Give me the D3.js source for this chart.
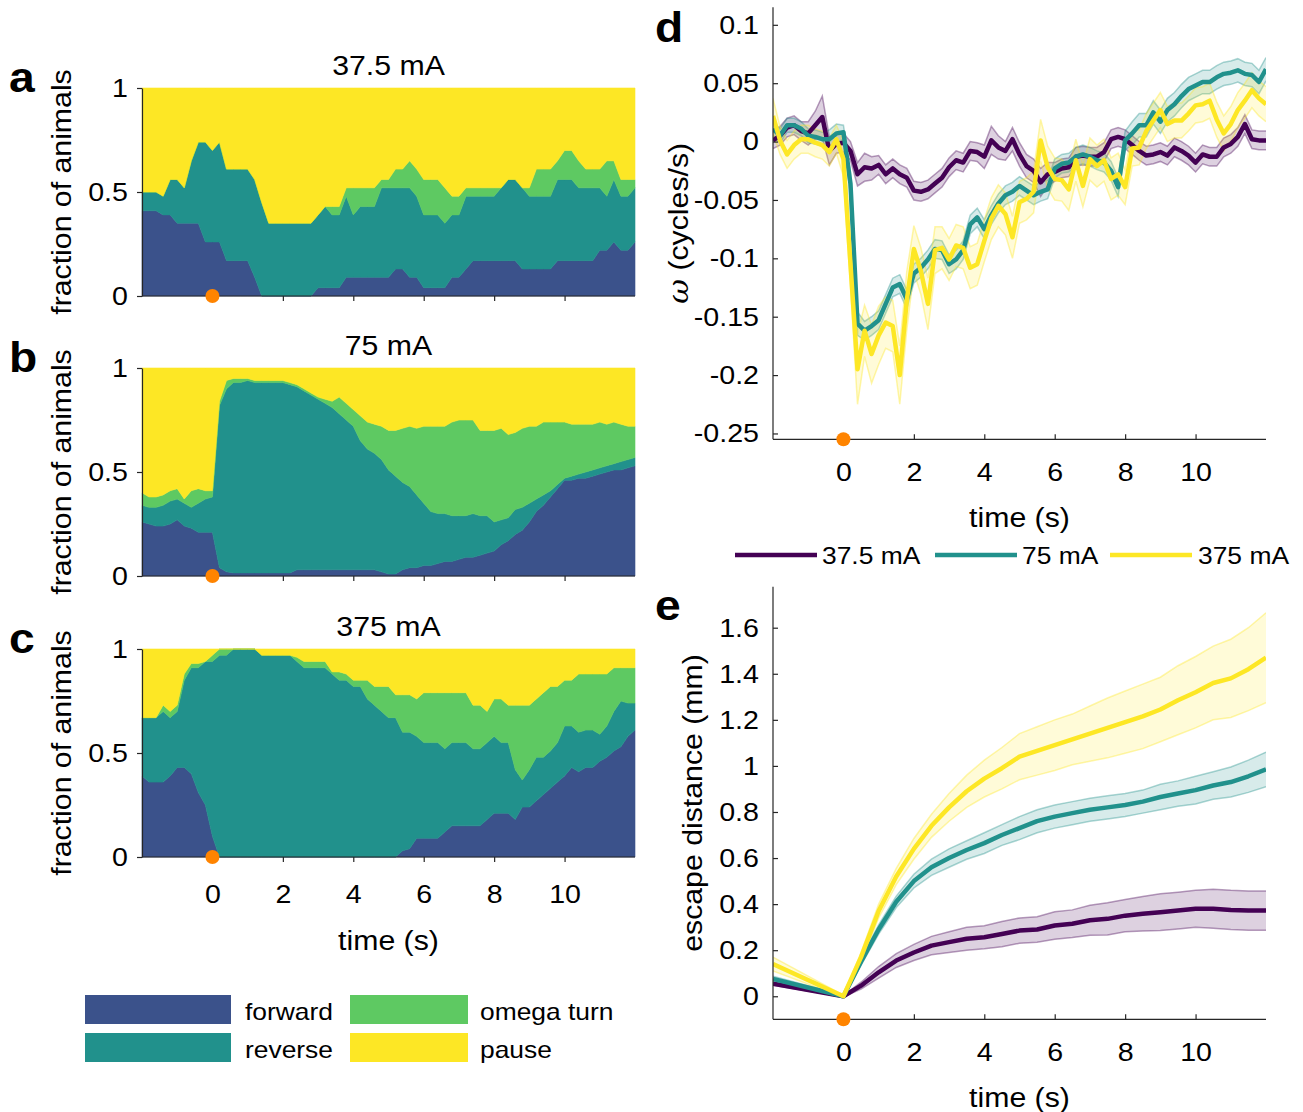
<!DOCTYPE html>
<html><head><meta charset="utf-8">
<script src="https://cdn.jsdelivr.net/npm/d3@7"></script>
<style>
body{margin:0;background:#fff;}
svg text{font-family:"Liberation Sans",Arial,Helvetica,sans-serif;fill:#000;}
</style></head><body>
<svg id="chart" width="1303" height="1112" xmlns="http://www.w3.org/2000/svg"></svg>
<script>
// ---------------- DATA ----------------
// behaviour time grid (s), step 0.2 from -2 to 12
const timeGrid = d3.range(71).map(i => +(-2 + 0.2 * i).toFixed(1));
const behaviors = ["forward", "reverse", "omega turn", "pause"];
const behaviorColors = ["#3b528b", "#21918c", "#5ec962", "#fde725"];
const currents = ["37.5 mA", "75 mA", "375 mA"];
const currentColors = ["#440154", "#21918c", "#fde725"];

// panel a (37.5 mA) fractions
const aForward = [.41,.41,.41,.39,.39,.35,.35,.35,.35,.26,
 .26,.26,.17,.17,.17,.17,.09,0,0,0,
 0,0,0,0,0,.04,.04,.04,.04,.09,
 .09,.09,.09,.09,.09,.09,.13,.13,.09,.09,
 .04,.04,.04,.04,.09,.09,.13,.17,.17,.17,
 .17,.17,.17,.17,.13,.13,.13,.13,.13,.17,
 .17,.17,.17,.17,.17,.22,.22,.26,.22,.22,
 .26];
const aReverse = [.09,.09,.09,.09,.17,.21,.17,.30,.39,.48,
 .44,.48,.44,.44,.44,.44,.47,.45,.35,.35,
 .35,.35,.35,.35,.35,.35,.39,.35,.35,.39,
 .30,.34,.34,.34,.43,.43,.39,.39,.43,.39,
 .35,.35,.35,.31,.30,.30,.35,.31,.31,.31,
 .31,.35,.39,.39,.39,.35,.35,.35,.35,.39,
 .39,.39,.35,.35,.35,.30,.26,.30,.26,.26,
 .26];
const aOmega = [0,0,0,0,0,0,0,0,0,0,
 0,0,0,0,0,0,0,0,0,0,
 0,0,0,0,0,0,0,.04,.04,.04,
 .13,.09,.09,.09,.04,.04,.09,.09,.13,.13,
 .17,.17,.17,.17,.09,.09,.04,.04,.04,.04,
 .04,0,0,0,0,.04,.13,.13,.13,.09,
 .14,.14,.13,.09,.09,.09,.17,.09,.08,.08,
 .04];
const aPause = [.50,.50,.50,.52,.44,.44,.48,.35,.26,.26,
 .30,.26,.39,.39,.39,.39,.44,.55,.65,.65,
 .65,.65,.65,.65,.65,.61,.57,.57,.57,.48,
 .48,.48,.48,.48,.44,.44,.39,.39,.35,.39,
 .44,.44,.44,.48,.52,.52,.48,.48,.48,.48,
 .48,.48,.44,.44,.48,.48,.39,.39,.39,.35,
 .30,.30,.35,.39,.39,.39,.35,.35,.44,.44,
 .44];

// panel b (75 mA)
const bForward = [.26,.25,.24,.24,.25,.27,.24,.23,.21,.21,
 .21,.04,.02,.015,.015,.015,.015,.015,.015,.015,
 .015,.015,.03,.03,.03,.03,.03,.03,.03,.03,
 .03,.03,.03,.03,.02,.01,.01,.03,.04,.04,
 .05,.05,.06,.07,.07,.08,.09,.09,.10,.11,
 .12,.15,.17,.20,.22,.26,.31,.34,.38,.42,
 .46,.46,.47,.47,.48,.49,.50,.51,.51,.52,
 .53];
const bReverse = [.08,.08,.09,.10,.11,.10,.11,.10,.14,.16,
 .17,.78,.88,.915,.915,.925,.915,.915,.915,.915,
 .915,.905,.88,.86,.84,.82,.80,.78,.75,.72,
 .69,.62,.58,.56,.54,.50,.47,.42,.39,.35,
 .30,.26,.24,.23,.22,.21,.20,.21,.19,.18,
 .14,.12,.11,.12,.11,.09,.06,.05,.03,.02,
 .01,.02,.02,.03,.03,.03,.03,.03,.04,.04,
 .04];
const bOmega = [.06,.05,.05,.05,.05,.05,.02,.08,.07,.04,
 .03,.02,.04,.02,.02,.01,.01,.01,.01,.01,
 .01,.01,.01,.01,.01,.01,.02,.03,.08,.08,
 .08,.12,.13,.14,.16,.19,.22,.26,.29,.32,
 .37,.41,.42,.42,.45,.46,.46,.45,.41,.41,
 .44,.44,.40,.37,.38,.37,.35,.35,.33,.30,
 .27,.25,.24,.23,.22,.22,.20,.20,.18,.16,
 .15];
const bPause = [.60,.62,.62,.61,.59,.58,.63,.59,.58,.59,
 .59,.16,.06,.05,.05,.05,.06,.06,.06,.06,
 .06,.07,.08,.10,.12,.14,.15,.16,.14,.17,
 .20,.23,.26,.27,.28,.30,.30,.29,.28,.29,
 .28,.28,.28,.28,.26,.25,.25,.25,.30,.30,
 .30,.29,.32,.31,.29,.28,.28,.26,.26,.26,
 .26,.27,.27,.27,.27,.26,.27,.26,.27,.28,
 .28];

// panel c (375 mA)
const cForward = [.39,.36,.36,.36,.39,.43,.43,.40,.31,.25,
 .10,0,0,0,0,0,0,0,0,0,
 0,0,0,0,0,0,0,0,0,0,
 0,0,0,0,0,0,0,.03,.04,.09,
 .09,.09,.09,.12,.15,.15,.15,.15,.15,.18,
 .21,.21,.21,.18,.24,.24,.27,.30,.33,.36,
 .39,.43,.41,.43,.43,.46,.48,.51,.53,.58,
 .61];
const cReverse = [.28,.31,.31,.34,.28,.27,.42,.51,.60,.69,
 .84,.97,.97,1,1,1,1,.97,.97,.97,
 .97,.97,.94,.91,.91,.91,.91,.88,.85,.85,
 .82,.82,.76,.73,.70,.67,.67,.57,.56,.49,
 .46,.46,.46,.40,.40,.40,.40,.37,.37,.37,
 .37,.34,.34,.24,.13,.18,.21,.18,.18,.19,
 .24,.20,.19,.18,.18,.13,.15,.19,.22,.16,
 .13];
const cOmega = [0,0,0,.03,.03,.03,.03,.02,.02,0,
 .03,.03,.03,0,0,0,0,0,0,0,
 0,0,.02,.03,.03,.03,.03,.01,.04,.03,
 .03,.03,.09,.09,.12,.15,.11,.18,.18,.18,
 .24,.24,.24,.27,.24,.24,.24,.21,.21,.15,
 .18,.21,.18,.31,.36,.31,.28,.31,.31,.27,
 .22,.22,.28,.27,.27,.29,.25,.21,.16,.17,
 .17];
const cPause = [.33,.33,.33,.27,.30,.27,.12,.07,.07,.06,
 .03,0,0,0,0,0,0,.03,.03,.03,
 .03,.03,.04,.06,.06,.06,.06,.11,.11,.12,
 .15,.15,.15,.18,.18,.18,.22,.22,.22,.24,
 .21,.21,.21,.21,.21,.21,.21,.27,.27,.30,
 .24,.24,.27,.27,.27,.27,.24,.21,.18,.18,
 .15,.15,.12,.12,.12,.12,.12,.09,.09,.09,
 .09];

// panel d: angular velocity omega (cycles/s), mean and s.e.m.
const wLow = [.001,.005,.012,.014,.009,.007,.014,.021,-.008,-.002,
 -.001,-.008,-.028,-.022,-.023,-.020,-.028,-.023,-.028,-.031,
 -.042,-.043,-.041,-.036,-.031,-.022,-.016,-.018,-.008,-.009,
 -.013,.001,-.005,-.008,.002,-.011,-.021,-.025,-.035,-.028,
 -.026,-.023,-.022,-.013,-.012,-.013,-.013,-.009,.002,.004,
 .002,-.003,-.008,-.012,-.011,-.009,-.012,-.005,-.008,-.012,
 -.018,-.011,-.013,-.013,-.005,-.002,.004,.015,.002,.001,
 .001];
const wLowSem = [.007,.008,.008,.008,.008,.010,.012,.018,.012,.008,
 .008,.008,.010,.012,.010,.008,.008,.008,.008,.008,
 .008,.008,.008,.008,.008,.008,.008,.008,.008,.008,
 .010,.012,.010,.008,.010,.010,.010,.010,.012,.010,
 .008,.008,.008,.008,.008,.008,.008,.008,.008,.008,
 .008,.008,.008,.008,.008,.008,.008,.008,.008,.008,
 .008,.008,.008,.008,.008,.008,.008,.008,.008,.008,
 .008];
const wMid = [.011,.005,.014,.014,.011,.005,.004,.002,.002,.007,
 .008,-.036,-.156,-.162,-.158,-.153,-.139,-.125,-.122,-.135,
 -.113,-.108,-.101,-.092,-.093,-.105,-.101,-.093,-.071,-.065,
 -.075,-.063,-.053,-.046,-.043,-.038,-.042,-.046,-.043,-.041,
 -.023,-.019,-.018,-.013,-.011,-.013,-.016,-.018,-.025,-.039,
 .001,.007,.014,.014,.025,.017,.027,.032,.039,.045,
 .048,.051,.051,.055,.058,.059,.061,.058,.057,.051,
 .062];
const wMidSem = [.006,.006,.006,.006,.006,.006,.006,.006,.008,.008,
 .006,.010,.010,.008,.008,.008,.008,.008,.008,.008,
 .008,.008,.008,.008,.008,.008,.008,.008,.008,.008,
 .008,.008,.008,.008,.008,.008,.008,.008,.008,.008,
 .008,.008,.008,.008,.008,.008,.008,.008,.008,.008,
 .008,.010,.010,.010,.010,.010,.010,.010,.010,.010,
 .010,.010,.010,.010,.010,.010,.010,.010,.010,.010,
 .010];
const wHigh = [.022,.001,-.011,-.003,.002,.002,-.001,-.003,-.009,.002,
 -.015,-.105,-.195,-.162,-.182,-.166,-.155,-.158,-.200,-.136,
 -.092,-.111,-.139,-.093,-.091,-.101,-.089,-.091,-.108,-.105,
 -.085,-.066,-.055,-.062,-.082,-.052,-.049,-.043,.001,-.022,
 -.032,-.033,-.041,-.016,-.038,-.015,-.021,-.016,-.032,-.028,
 -.039,-.006,-.005,.009,.018,.027,.015,.018,.018,.024,
 .031,.032,.035,.019,.007,.015,.027,.035,.044,.037,
 .032];
const wHighSem = [.015,.012,.012,.012,.012,.012,.012,.012,.012,.012,
 .015,.020,.030,.022,.025,.025,.022,.022,.025,.025,
 .020,.020,.022,.020,.018,.018,.018,.018,.018,.018,
 .018,.018,.018,.018,.018,.018,.018,.018,.018,.018,
 .018,.018,.018,.018,.018,.018,.018,.018,.018,.018,
 .015,.015,.015,.015,.015,.015,.015,.015,.015,.015,
 .015,.015,.015,.015,.015,.015,.015,.015,.015,.015,
 .015];

// panel e: escape distance (mm)
const timeE = [-2,0,0.5,1,1.5,2,2.5,3,3.5,4,4.5,5,5.5,6,6.5,7,7.5,8,8.5,9,9.5,10,10.5,11,11.5,12];
const distLow = [.054,0,.046,.104,.155,.19,.22,.235,.25,.256,.27,.285,.29,.307,.315,.33,.336,.35,.358,.365,.372,.38,.38,.375,.372,.372];
const distLowSem = [.006,.003,.015,.025,.03,.035,.04,.045,.05,.05,.055,.055,.055,.06,.06,.065,.07,.07,.075,.08,.08,.08,.085,.085,.085,.085];
const distMid = [.075,0,.15,.29,.41,.50,.56,.60,.635,.665,.70,.73,.76,.78,.795,.81,.82,.83,.845,.865,.88,.895,.915,.93,.955,.985];
const distMidSem = [.012,.005,.015,.02,.025,.03,.035,.04,.04,.045,.045,.05,.05,.05,.05,.05,.05,.05,.05,.055,.055,.06,.06,.065,.07,.075];
const distHigh = [.14,0,.17,.37,.52,.64,.74,.82,.89,.945,.99,1.04,1.065,1.09,1.115,1.14,1.165,1.19,1.215,1.245,1.285,1.32,1.36,1.38,1.42,1.47];
const distHighSem = [.03,.005,.02,.03,.035,.045,.05,.06,.07,.08,.09,.10,.105,.11,.11,.12,.13,.135,.14,.14,.15,.155,.16,.17,.18,.195];

// ticks
const timeTicks = [0,2,4,6,8,10];
const timeTickLabels = ["0","2","4","6","8","10"];
const fracTicks = [0,0.5,1];
const fracTickLabels = ["0","0.5","1"];
const wTicks = [-0.25,-0.2,-0.15,-0.1,-0.05,0,0.05,0.1];
const wTickLabels = ["-0.25","-0.2","-0.15","-0.1","-0.05","0","0.05","0.1"];
const distTicks = [0,0.2,0.4,0.6,0.8,1,1.2,1.4,1.6];
const distTickLabels = ["0","0.2","0.4","0.6","0.8","1","1.2","1.4","1.6"];

// ---------------- DRAWING ----------------
const svg = d3.select("#chart");
svg.append("rect").attr("width",1303).attr("height",1112).attr("fill","#fff");
const AX = "#262626";
const ORANGE = "#ff8400";
const TICKFS = 26, LABFS = 27.5;

function styleAxis(g, fs){
  g.attr("font-size", null).attr("font-family", null);
  g.select(".domain").attr("stroke", AX).attr("stroke-width", 1.2);
  g.selectAll(".tick line").attr("stroke", AX).attr("stroke-width", 1.2);
  g.selectAll(".tick text").attr("fill", "#000").style("font-size", fs + "px");
}

// ---- panels a, b, c ----
const xB = d3.scaleLinear().domain([-2, 12]).range([142, 635]);
const behPanels = [
  {letter:"a", title:currents[0], top:88, bottom:296, cols:[aForward,aReverse,aOmega,aPause], xlabels:false},
  {letter:"b", title:currents[1], top:368, bottom:576, cols:[bForward,bReverse,bOmega,bPause], xlabels:false},
  {letter:"c", title:currents[2], top:649, bottom:857, cols:[cForward,cReverse,cOmega,cPause], xlabels:true}
];
const stack = d3.stack().keys(behaviors).offset(d3.stackOffsetExpand);

behPanels.forEach(p => {
  const y = d3.scaleLinear().domain([0,1]).range([p.bottom, p.top]);
  const rows = timeGrid.map((t,i) => {
    const r = {t};
    behaviors.forEach((b,k) => r[b] = p.cols[k][i]);
    return r;
  });
  const series = stack(rows);
  const area = d3.area().x(d => xB(d.data.t)).y0(d => y(d[0])).y1(d => y(d[1]));
  const g = svg.append("g");
  g.selectAll("path.area").data(series).join("path")
    .attr("class","area")
    .attr("d", area)
    .attr("fill", (d,i) => behaviorColors[i])
    .attr("stroke", (d,i) => behaviorColors[i])
    .attr("stroke-width", 0.6);

  const yAx = g.append("g").attr("transform", `translate(${xB.range()[0]},0)`)
    .call(d3.axisLeft(y).tickValues(fracTicks).tickFormat((d,i)=>fracTickLabels[i]).tickSizeInner(5).tickSizeOuter(0).tickPadding(9));
  styleAxis(yAx, TICKFS);
  const xAx = g.append("g").attr("transform", `translate(0,${p.bottom})`)
    .call(d3.axisBottom(xB).tickValues(timeTicks).tickFormat((d,i)=> p.xlabels ? timeTickLabels[i] : "").tickSizeInner(5).tickSizeOuter(0).tickPadding(23));
  styleAxis(xAx, TICKFS);
  xAx.select(".domain").attr("d", `M${xB.range()[0]},0H${xB.range()[1]}`);

  g.append("circle").attr("cx", xB(0)).attr("cy", p.bottom).attr("r", 7).attr("fill", ORANGE);

  g.append("text").attr("x", (xB.range()[0]+xB.range()[1])/2).attr("y", p.top - 13)
    .attr("text-anchor","middle").style("font-size", LABFS+"px").text(p.title);
  g.append("text").attr("transform", `translate(71,${(p.top+p.bottom)/2}) rotate(-90)`)
    .attr("text-anchor","middle").style("font-size", LABFS+"px").text("fraction of animals");
  g.append("text").attr("x", 9).attr("y", p.top + 4)
    .style("font-size","42px").style("font-weight","bold").text(p.letter);
  if (p.xlabels) {
    g.append("text").attr("x", (xB.range()[0]+xB.range()[1])/2).attr("y", 950)
      .attr("text-anchor","middle").style("font-size", LABFS+"px").text("time (s)");
  }
});

// bottom legend for behaviours
const legItems = [
  {k:0, x:85, y:995}, {k:1, x:85, y:1033}, {k:2, x:350, y:995}, {k:3, x:350, y:1033}
];
legItems.forEach(it => {
  svg.append("rect").attr("x", it.x).attr("y", it.y).attr("width", it.k < 2 ? 146 : 118).attr("height", 29)
    .attr("fill", behaviorColors[it.k]);
  svg.append("text").attr("x", it.x + (it.k < 2 ? 160 : 130)).attr("y", it.y + 25)
    .style("font-size","24px").text(behaviors[it.k]);
});

// ---- line panels helper ----
const xL = d3.scaleLinear().domain([-2, 12]).range([773, 1266]);

function linePanel(opts){
  const y = d3.scaleLinear().domain(opts.ydom).range([opts.bottom, opts.top]);
  const g = svg.append("g");
  const clipId = "clip" + opts.letter;
  svg.append("clipPath").attr("id", clipId).append("rect")
    .attr("x", xL.range()[0]).attr("y", opts.top).attr("width", xL.range()[1]-xL.range()[0]).attr("height", opts.bottom-opts.top);
  const pg = g.append("g").attr("clip-path", `url(#${clipId})`);
  const band = d3.area().x(d => xL(d.t)).y0(d => y(d.m - d.s)).y1(d => y(d.m + d.s));
  const line = d3.line().x(d => xL(d.t)).y(d => y(d.v));
  const sets = opts.series.map((s,k) => s.mean.map((m,i) => ({t: opts.time[i], m, s: s.sem[i]})));
  sets.forEach((pts,k) => {
    pg.append("path").attr("d", band(pts)).attr("fill", currentColors[k]).attr("fill-opacity", 0.18);
    pg.append("path").attr("d", line(pts.map(p=>({t:p.t, v:p.m+p.s})))).attr("fill","none")
      .attr("stroke", currentColors[k]).attr("stroke-opacity", 0.38).attr("stroke-width", 1.5);
    pg.append("path").attr("d", line(pts.map(p=>({t:p.t, v:p.m-p.s})))).attr("fill","none")
      .attr("stroke", currentColors[k]).attr("stroke-opacity", 0.38).attr("stroke-width", 1.5);
  });
  sets.forEach((pts,k) => {
    pg.append("path").attr("d", line(pts.map(p=>({t:p.t, v:p.m})))).attr("fill","none")
      .attr("stroke", currentColors[k]).attr("stroke-width", 4.5).attr("stroke-linejoin","round");
  });
  const yAx = g.append("g").attr("transform", `translate(${xL.range()[0]},0)`)
    .call(d3.axisLeft(y).tickValues(opts.ticks).tickFormat((d,i)=>opts.tickLabels[i]).tickSizeInner(-5).tickSizeOuter(0).tickPadding(14));
  styleAxis(yAx, TICKFS);
  yAx.select(".domain").attr("d", `M0,${opts.top}V${opts.bottom}`);
  const xAx = g.append("g").attr("transform", `translate(0,${opts.bottom})`)
    .call(d3.axisBottom(xL).tickValues(timeTicks).tickFormat((d,i)=>timeTickLabels[i]).tickSizeInner(-5).tickSizeOuter(0).tickPadding(23));
  styleAxis(xAx, TICKFS);
  xAx.select(".domain").attr("d", `M${xL.range()[0]},0H${xL.range()[1]}`);
  g.append("circle").attr("cx", xL(0)).attr("cy", opts.bottom).attr("r", 7).attr("fill", ORANGE);
  g.append("text").attr("x", (xL.range()[0]+xL.range()[1])/2).attr("y", opts.bottom + 88)
    .attr("text-anchor","middle").style("font-size", LABFS+"px").text("time (s)");
  const yl = g.append("text").attr("transform", `translate(${opts.ylabX},${(opts.top+opts.bottom)/2}) rotate(-90)`)
    .attr("text-anchor","middle").style("font-size", LABFS+"px");
  opts.ylabel(yl);
  g.append("text").attr("x", 655).attr("y", opts.letterY)
    .style("font-size","42px").style("font-weight","bold").text(opts.letter);
  return y;
}

linePanel({
  letter:"d", letterY:42, top:7.3, bottom:439.3, ydom:[-0.255, 0.115],
  time: timeGrid,
  series:[{mean:wLow, sem:wLowSem},{mean:wMid, sem:wMidSem},{mean:wHigh, sem:wHighSem}],
  ticks: wTicks, tickLabels: wTickLabels, ylabX: 688,
  ylabel: t => { t.append("tspan").style("font-style","italic").style("font-family","'DejaVu Serif','Liberation Serif',serif").text("ω"); t.append("tspan").text(" (cycles/s)"); }
});

linePanel({
  letter:"e", letterY:620, top:586.7, bottom:1019.3, ydom:[-0.1, 1.778],
  time: timeE,
  series:[{mean:distLow, sem:distLowSem},{mean:distMid, sem:distMidSem},{mean:distHigh, sem:distHighSem}],
  ticks: distTicks, tickLabels: distTickLabels, ylabX: 702,
  ylabel: t => t.text("escape distance (mm)")
});

// legend for currents
const cLeg = [{x:735, tx:822}, {x:935, tx:1022}, {x:1110, tx:1198}];
cLeg.forEach((c,k) => {
  svg.append("line").attr("x1", c.x).attr("x2", c.x + 82).attr("y1", 555).attr("y2", 555)
    .attr("stroke", currentColors[k]).attr("stroke-width", 4.5);
  svg.append("text").attr("x", c.tx).attr("y", 564).style("font-size","24px").text(currents[k]);
});

// widen glyphs slightly to match the reference typeface proportions
svg.selectAll("text").each(function(){
  const L = this.getComputedTextLength();
  if (L > 0) d3.select(this).attr("textLength", (L*1.1).toFixed(1)).attr("lengthAdjust","spacingAndGlyphs");
});
</script>
</body></html>
